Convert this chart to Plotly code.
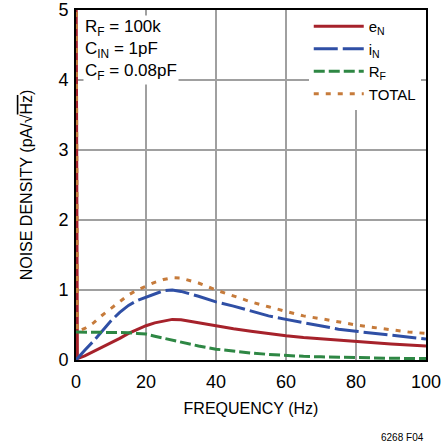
import plotly.graph_objects as go

freq = [0, 0.4, 2.5, 5, 7.5, 10, 12.5, 15, 17.5, 20, 22.5, 25, 27.5, 30, 35, 40,
        45, 50, 55, 60, 65, 70, 75, 80, 85, 90, 95, 100]
e_n = [6.0, 0.02, 0.06, 0.12, 0.18, 0.25, 0.31, 0.38, 0.44, 0.49, 0.53, 0.56, 0.58,
       0.575, 0.53, 0.485, 0.445, 0.41, 0.375, 0.345, 0.32, 0.30, 0.28, 0.26, 0.245,
       0.23, 0.215, 0.20]
i_n = [0.0, 0.02, 0.14, 0.27, 0.42, 0.56, 0.68, 0.78, 0.85, 0.90, 0.95, 0.99, 1.0,
       0.98, 0.91, 0.83, 0.77, 0.70, 0.63, 0.58, 0.53, 0.49, 0.44, 0.41, 0.38, 0.35,
       0.32, 0.30]
r_f = [0.40, 0.40, 0.40, 0.40, 0.40, 0.40, 0.395, 0.39, 0.38, 0.37, 0.34, 0.31,
       0.285, 0.255, 0.20, 0.155, 0.125, 0.10, 0.08, 0.063, 0.052, 0.045, 0.038,
       0.033, 0.029, 0.025, 0.022, 0.02]
total = [6.0, 0.41, 0.45, 0.53, 0.64, 0.74, 0.84, 0.93, 1.0, 1.06, 1.11, 1.15, 1.175,
         1.17, 1.10, 1.0, 0.91, 0.83, 0.76, 0.69, 0.63, 0.59, 0.54, 0.50, 0.465, 0.43,
         0.40, 0.38]

x_ticks = [0, 20, 40, 60, 80, 100]
y_ticks = [0, 1, 2, 3, 4, 5]

FONT = "Liberation Sans, Arial, sans-serif"

fig = go.Figure()
series = [
    ("e<sub>N</sub>", e_n, "#a6222b", "solid"),
    ("i<sub>N</sub>", i_n, "#2f4fa5", "24px,5px"),
    ("R<sub>F</sub>", r_f, "#2e8744", "11px,4px"),
    ("TOTAL", total, "#c67b3b", "5px,7px"),
]
for name, vals, color, dash in series:
    fig.add_trace(go.Scatter(x=freq, y=vals, mode="lines", name=name,
                             line=dict(color=color, width=3, dash=dash)))

fig.update_layout(
    width=443, height=447,
    margin=dict(l=76, r=17, t=10, b=87),
    paper_bgcolor="white", plot_bgcolor="white",
    font=dict(family=FONT, size=18, color="black"),
    showlegend=True,
    legend=dict(x=0.985, y=1.0, xanchor="right", yanchor="top",
                bgcolor="white", itemwidth=50, tracegroupgap=0,
                font=dict(size=15)),
    xaxis=dict(range=[0, 100], tickvals=x_ticks, showgrid=True, gridcolor="#a0a0a0",
               gridwidth=1.5, showline=True, linecolor="black", linewidth=2,
               mirror=True, ticks="", zeroline=False, automargin=False,
               tickfont=dict(size=18), ticklabelstandoff=4,
               title=dict(text="FREQUENCY (Hz)", standoff=12, font=dict(size=16))),
    yaxis=dict(range=[0, 5], tickvals=y_ticks, showgrid=True, gridcolor="#a0a0a0",
               gridwidth=1.5, showline=True, linecolor="black", linewidth=2,
               mirror=True, ticks="", zeroline=False, automargin=False,
               tickfont=dict(size=18), ticklabelstandoff=2,
               title=dict(text="NOISE DENSITY (pA/√<span style='text-decoration:overline'>Hz</span>)",
                          standoff=22, font=dict(size=16))),
)

fig.add_annotation(x=0, y=1, xref="paper", yref="paper", xanchor="left", yanchor="top",
                   xshift=7, yshift=-5, align="left", showarrow=False, bgcolor="white",
                   text="R<sub>F</sub> = 100k<br>C<sub>IN</sub> = 1pF<br>C<sub>F</sub> = 0.08pF",
                   font=dict(size=17))
fig.add_annotation(x=1.0, y=-0.22, xref="paper", yref="paper", xanchor="right",
                   yanchor="middle", showarrow=False,
                   text="6268 F04", font=dict(size=10))

fig.write_html("out.html", config={"displayModeBar": False},
               post_script="document.body.style.margin='0';")
